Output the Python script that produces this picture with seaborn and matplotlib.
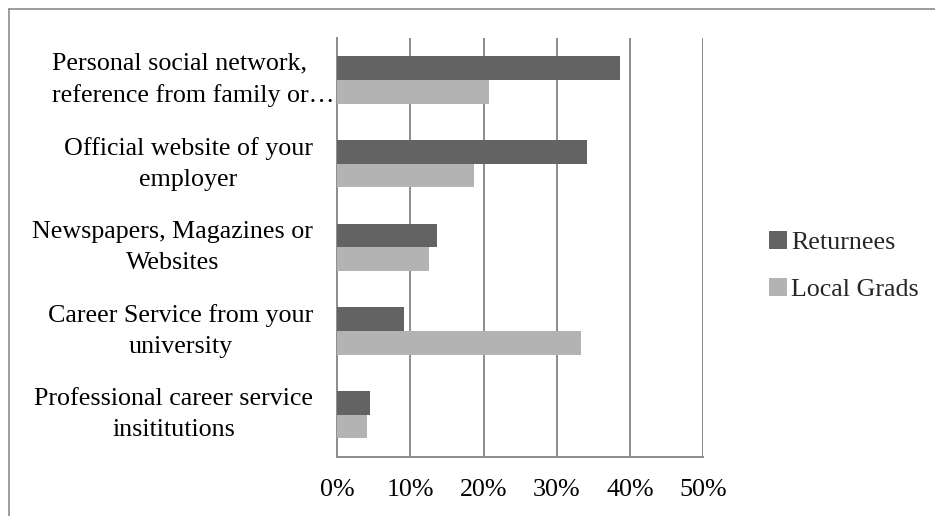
import matplotlib
matplotlib.use("Agg")
import matplotlib.pyplot as plt
import matplotlib.transforms as mtransforms
from matplotlib.lines import Line2D
import seaborn as sns
import pandas as pd

# Job-search channels and the share of respondents using each
categories = [
    "Personal social network,\nreference from family or…",
    "Official website of your\nemployer",
    "Newspapers, Magazines or\nWebsites",
    "Career Service from your\nuniversity",
    "Professional career service\ninsititutions",
]
returnees = [0.386, 0.341, 0.136, 0.091, 0.045]
local_grads = [0.208, 0.187, 0.125, 0.333, 0.041]
series_names = ["Returnees", "Local Grads"]
x_ticks = [0.0, 0.1, 0.2, 0.3, 0.4, 0.5]
x_tick_labels = ["0%", "10%", "20%", "30%", "40%", "50%"]

df = pd.DataFrame({
    "channel": categories * 2,
    "share": returnees + local_grads,
    "group": [series_names[0]] * len(categories) + [series_names[1]] * len(categories),
})

sns.set_theme(style="white")
plt.rcParams["font.family"] = ["Liberation Serif", "DejaVu Serif"]

FS = 18.7
GRID = "#8c8c8c"

fig = plt.figure(figsize=(9.35, 5.16), dpi=100)
ax = fig.add_axes([0.3604, 0.1149, 0.7522 - 0.3604, 0.9264 - 0.1149])

sns.barplot(
    data=df, x="share", y="channel", hue="group", orient="h",
    hue_order=series_names, order=categories,
    palette=["#636363", "#b3b3b3"], width=0.565,
    linewidth=0, edgecolor="none", saturation=1, ax=ax, legend=True, zorder=3,
)

ax.set_xlim(0, 0.5)
ax.set_xticks(x_ticks)
ax.set_xticklabels(x_tick_labels, fontsize=FS, color="black")
ax.tick_params(axis="x", length=0, pad=16)
ax.tick_params(axis="y", length=0)
ax.set_xlabel("")
ax.set_ylabel("")
ax.xaxis.grid(True, color=GRID, linewidth=1.4, zorder=0)
ax.set_axisbelow(True)
for side in ["top", "right"]:
    ax.spines[side].set_visible(False)
for side in ["left", "bottom"]:
    ax.spines[side].set_color(GRID)
    ax.spines[side].set_linewidth(1.4)

# Category labels: right-aligned blocks with centred lines
ax.set_yticklabels([])
yticks = ax.get_yticks()
trans = ax.get_yaxis_transform()
for i, (y, lab) in enumerate(zip(yticks, categories)):
    if i == 0:
        off = mtransforms.offset_copy(trans, fig=fig, x=-2, y=0, units="dots")
        ax.text(0, y, lab, transform=off, ha="right", va="center",
                multialignment="left", fontsize=FS, color="black", linespacing=1.53)
    else:
        off = mtransforms.offset_copy(trans, fig=fig, x=-24, y=0, units="dots")
        ax.text(0, y, lab, transform=off, ha="right", va="center",
                multialignment="center", fontsize=FS, color="black", linespacing=1.53)

leg = ax.legend(
    loc="center left", bbox_to_anchor=(769 / 935, 1 - 266 / 516),
    bbox_transform=fig.transFigure, frameon=False, fontsize=FS,
    handlelength=0.5, handleheight=0.7, handletextpad=0.36, labelspacing=0.9,
    borderaxespad=0, borderpad=0,
)
for h in leg.legend_handles:
    h.set_height(13)
    h.set_width(13)

# Outer chart border (top and left edges)
fig.add_artist(Line2D([8.5 / 935, 1.0], [1 - 8.5 / 516] * 2, transform=fig.transFigure,
                      color="#8c8c8c", linewidth=1.2))
fig.add_artist(Line2D([8.5 / 935] * 2, [0.0, 1 - 8.5 / 516], transform=fig.transFigure,
                      color="#8c8c8c", linewidth=1.2))

fig.savefig("out.png", dpi=100, facecolor="white")
